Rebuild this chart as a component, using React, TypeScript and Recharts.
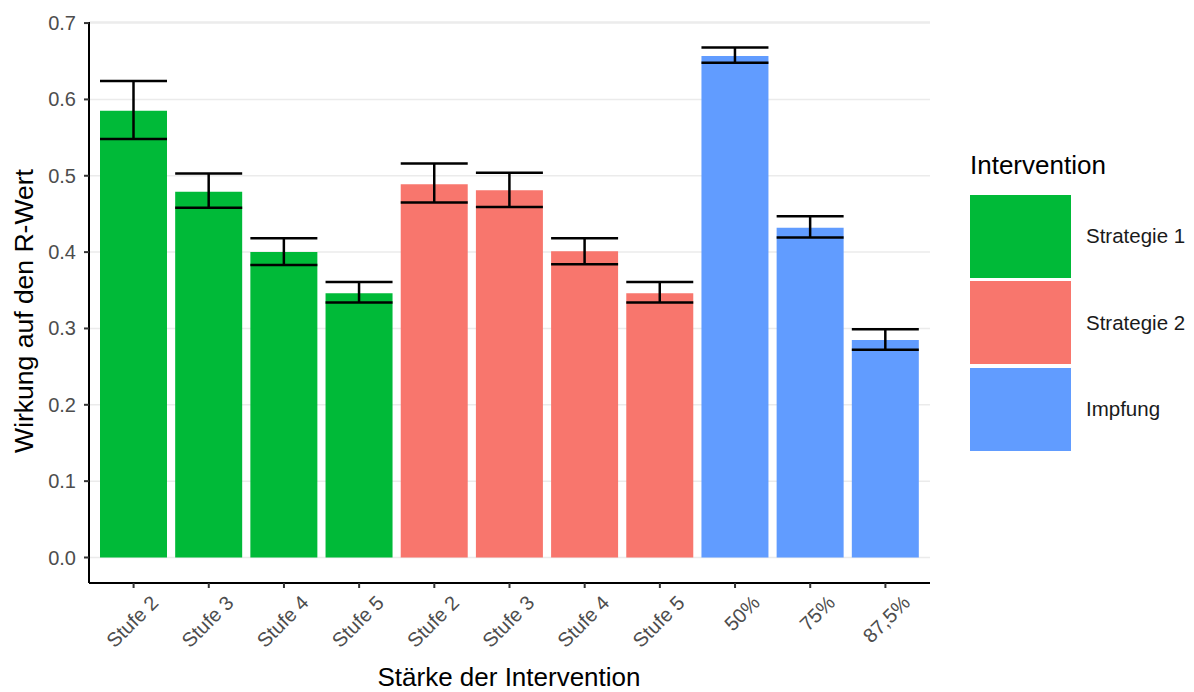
import { BarChart, Bar, XAxis, YAxis, CartesianGrid, ErrorBar, Cell } from 'recharts';

const categories = ['Stufe 2', 'Stufe 3', 'Stufe 4', 'Stufe 5', 'Stufe 2', 'Stufe 3', 'Stufe 4', 'Stufe 5', '50%', '75%', '87,5%'];
const groups = ['Strategie 1', 'Strategie 1', 'Strategie 1', 'Strategie 1', 'Strategie 2', 'Strategie 2', 'Strategie 2', 'Strategie 2', 'Impfung', 'Impfung', 'Impfung'];
const values = [0.585, 0.479, 0.400, 0.346, 0.489, 0.481, 0.401, 0.346, 0.657, 0.432, 0.285];
const lowerBounds = [0.548, 0.458, 0.383, 0.334, 0.465, 0.459, 0.384, 0.334, 0.648, 0.419, 0.272];
const upperBounds = [0.624, 0.503, 0.418, 0.361, 0.516, 0.504, 0.418, 0.361, 0.668, 0.447, 0.299];
const yTicks = [0, 0.1, 0.2, 0.3, 0.4, 0.5, 0.6, 0.7];
const legendItems = ['Strategie 1', 'Strategie 2', 'Impfung'];

const groupColors: Record<string, string> = {
  'Strategie 1': '#00BA38',
  'Strategie 2': '#F8766D',
  'Impfung': '#619CFF'
};

const FONT = '"Liberation Sans", Arial, sans-serif';

const data = categories.map((cat, i) => ({
  idx: i,
  name: cat,
  group: groups[i],
  value: values[i],
  err: [values[i] - lowerBounds[i], upperBounds[i] - values[i]]
}));

function XTick(props: any) {
  const { x, y, payload } = props;
  const tx = x + 26;
  const ty = y + 16;
  return (
    <text
      x={tx}
      y={ty}
      transform={`rotate(-45, ${tx}, ${ty})`}
      textAnchor="end"
      fill="#4D4D4D"
      fontSize={20}
      fontFamily={FONT}
    >
      {categories[payload.value]}
    </text>
  );
}

function YTick(props: any) {
  const { y, payload } = props;
  return (
    <text x={76} y={y + 7} textAnchor="end" fill="#4D4D4D" fontSize={20} fontFamily={FONT}>
      {Number(payload.value).toFixed(1)}
    </text>
  );
}

function YTitle() {
  return (
    <text
      x={33}
      y={311}
      transform="rotate(-90, 33, 311)"
      textAnchor="middle"
      fill="#000"
      fontSize={26.5}
      fontFamily={FONT}
    >
      Wirkung auf den R-Wert
    </text>
  );
}

function XTitle() {
  return (
    <text x={509} y={686} textAnchor="middle" fill="#000" fontSize={26} fontFamily={FONT}>
      Stärke der Intervention
    </text>
  );
}

export default function App() {
  return (
    <div style={{ position: 'absolute', left: 0, top: 0, width: 1194, height: 692, background: '#fff' }}>
      <BarChart
        width={1194}
        height={692}
        data={data}
        margin={{ top: 22, right: 264, left: 0, bottom: 0 }}
        barSize={67}
      >
        <CartesianGrid vertical={false} stroke="#EBEBEB" strokeWidth={1.5} />
        <XAxis
          dataKey="idx"
          type="category"
          height={109}
          padding={{ left: 7, right: 7 }}
          tick={<XTick />}
          tickSize={5}
          tickMargin={0}
          interval={0}
          axisLine={{ stroke: '#000', strokeWidth: 2 }}
          tickLine={{ stroke: '#333', strokeWidth: 2 }}
          label={{ content: () => <XTitle /> }}
        />
        <YAxis
          type="number"
          width={89}
          domain={[-0.0334, 0.7014]}
          ticks={yTicks}
          tick={<YTick />}
          tickSize={5}
          tickMargin={3}
          axisLine={{ stroke: '#000', strokeWidth: 2 }}
          tickLine={{ stroke: '#333', strokeWidth: 2 }}
          allowDataOverflow
          label={{ content: () => <YTitle /> }}
        />
        <Bar dataKey="value" isAnimationActive={false}>
          {data.map((d) => (
            <Cell key={`cell-${d.idx}`} fill={groupColors[d.group]} />
          ))}
          <ErrorBar dataKey="err" width={33.5} stroke="#000" strokeWidth={2.5} direction="y" isAnimationActive={false} />
        </Bar>
      </BarChart>
      <div style={{ position: 'absolute', left: 970, top: 150, fontFamily: FONT }}>
        <div style={{ fontSize: 26, color: '#000', height: 43, lineHeight: '30px' }}>Intervention</div>
        {legendItems.map((item) => (
          <div key={item} style={{ display: 'flex', alignItems: 'center', height: 86.5 }}>
            <div style={{ width: 101, height: 83, background: groupColors[item] }} />
            <span style={{ marginLeft: 15, fontSize: 20.5, color: '#1A1A1A' }}>{item}</span>
          </div>
        ))}
      </div>
    </div>
  );
}
